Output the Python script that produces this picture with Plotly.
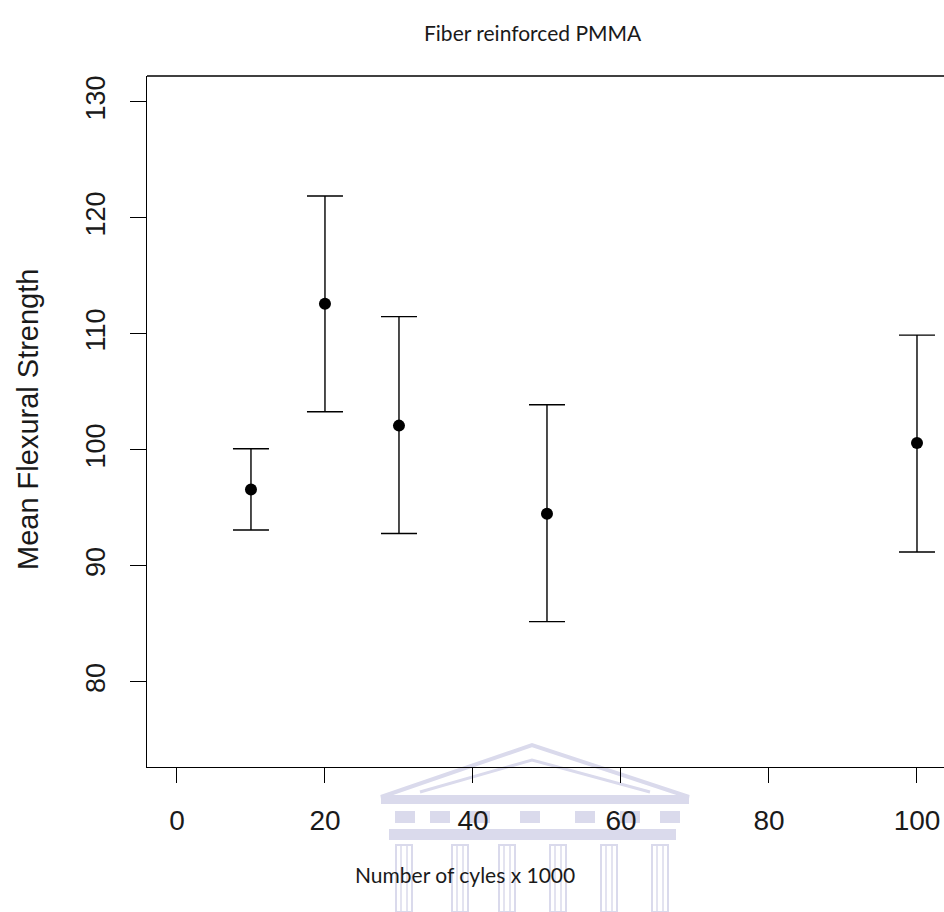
import plotly.graph_objects as go

# values
cycles = [10, 20, 30, 50, 100]            # number of cycles x 1000
mean_strength = [96.6, 112.6, 102.1, 94.5, 100.6]
upper = [100.1, 121.9, 111.5, 103.9, 109.9]  # top of error bar
lower = [93.1, 103.3, 92.8, 85.2, 91.2]      # bottom of error bar

x_ticks = [0, 20, 40, 60, 80, 100]
y_ticks = [80, 90, 100, 110, 120, 130]

W, H = 944, 912
L, R, T, B = 147, 0, 76, 145
ink = "#1a1a1a"


def px(x, y):
    # pixel position -> paper coords (for title/labels/watermark)
    return (x - L) / (W - L - R), (H - B - y) / (H - T - B)


err_plus = [u - m for u, m in zip(upper, mean_strength)]
err_minus = [m - l for m, l in zip(mean_strength, lower)]

fig = go.Figure()
fig.add_trace(go.Scatter(
    x=cycles, y=mean_strength, mode="markers",
    marker=dict(color="black", size=12),
    error_y=dict(type="data", symmetric=False, array=err_plus, arrayminus=err_minus,
                 color="black", thickness=1.4, width=18),
    showlegend=False,
))

# faint watermark (building logo) behind the bottom axis
wm = "#dadaec"
shapes = []
ax, ay = px(532, 745)
bl = px(381, 797)
br = px(689, 797)
shapes.append(dict(type="path", xref="paper", yref="paper", layer="below",
                   path=f"M {bl[0]},{bl[1]} L {ax},{ay} L {br[0]},{br[1]} Z",
                   line=dict(color=wm, width=4)))
ax2, ay2 = px(532, 760)
bl2 = px(420, 792)
br2 = px(650, 792)
shapes.append(dict(type="path", xref="paper", yref="paper", layer="below",
                   path=f"M {bl2[0]},{bl2[1]} L {ax2},{ay2} L {br2[0]},{br2[1]}",
                   line=dict(color=wm, width=3)))
for (x0, y0, x1, y1) in [(381, 798, 689, 804), (389, 829, 676, 840)]:
    p0, p1 = px(x0, y0), px(x1, y1)
    shapes.append(dict(type="rect", xref="paper", yref="paper", layer="below",
                       x0=p0[0], y0=p0[1], x1=p1[0], y1=p1[1],
                       line=dict(width=0), fillcolor=wm))
for cx in [404, 460, 507, 558, 609, 660]:
    p0, p1 = px(cx - 8, 845), px(cx + 8, 912)
    shapes.append(dict(type="rect", xref="paper", yref="paper", layer="below",
                       x0=p0[0], y0=p0[1], x1=p1[0], y1=p1[1],
                       line=dict(color=wm, width=2), fillcolor="rgba(0,0,0,0)"))
    p0, p1 = px(cx - 3, 845), px(cx + 3, 912)
    shapes.append(dict(type="rect", xref="paper", yref="paper", layer="below",
                       x0=p0[0], y0=p0[1], x1=p1[0], y1=p1[1],
                       line=dict(color=wm, width=1.5), fillcolor="rgba(0,0,0,0)"))
for wx in [395, 430, 470, 520, 575, 620, 660]:
    p0, p1 = px(wx, 811), px(wx + 20, 823)
    shapes.append(dict(type="rect", xref="paper", yref="paper", layer="below",
                       x0=p0[0], y0=p0[1], x1=p1[0], y1=p1[1],
                       line=dict(width=0), fillcolor=wm))

# top edge of the box (right edge falls outside the image)
shapes.append(dict(type="line", xref="paper", yref="paper", x0=0, x1=1, y0=1, y1=1,
                   line=dict(color="black", width=1.4)))

tx, ty = px(533, 32)
xtx, xty = px(465, 875)
ytx, yty = px(28, 420)
fig.update_layout(
    width=W, height=H,
    margin=dict(l=L, r=R, t=T, b=B),
    plot_bgcolor="white", paper_bgcolor="white",
    shapes=shapes,
    annotations=[
        dict(text="Fiber reinforced PMMA", xref="paper", yref="paper", x=tx, y=ty,
             showarrow=False, xanchor="center", yanchor="middle",
             font=dict(family="Lato", size=21, color=ink)),
        dict(text="Number of cyles x 1000", xref="paper", yref="paper", x=xtx, y=xty,
             showarrow=False, xanchor="center", yanchor="middle",
             font=dict(family="Lato", size=21, color=ink)),
        dict(text="Mean Flexural Strength", xref="paper", yref="paper", x=ytx, y=yty,
             showarrow=False, xanchor="center", yanchor="middle", textangle=-90,
             font=dict(family="Liberation Sans", size=29, color=ink)),
    ],
)
fig.update_xaxes(range=[-4.05, 103.65], tickvals=x_ticks, showgrid=False, zeroline=False,
                 showline=True, linecolor="black", linewidth=1.4,
                 ticks="outside", ticklen=15, tickwidth=1.4, tickcolor="black",
                 ticklabelstandoff=13,
                 tickfont=dict(family="Liberation Sans", size=28, color=ink))
fig.update_yaxes(range=[72.67, 132.24], tickvals=y_ticks, showgrid=False, zeroline=False,
                 showline=True, linecolor="black", linewidth=1.4,
                 ticks="outside", ticklen=16, tickwidth=1.4, tickcolor="black",
                 tickangle=-90, ticklabelstandoff=14,
                 tickfont=dict(family="Liberation Sans", size=27, color=ink))

# page has a default 8px body margin; drop it so the figure sits at 0,0
fig.write_html("out.html", config={"displayModeBar": False},
               post_script="document.body.style.margin='0px';")
